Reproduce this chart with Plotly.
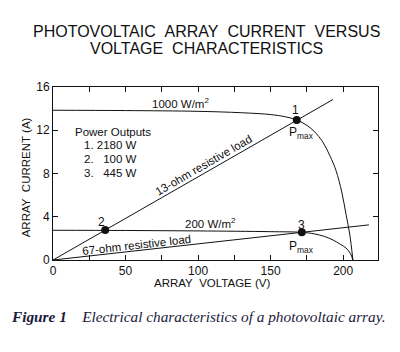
import plotly.graph_objects as go

# ---- data ----
v_1000 = [0, 50, 100, 130, 150, 160, 168, 175, 180, 186, 191, 195, 199, 202, 204.5, 206.7]
i_1000 = [13.85, 13.82, 13.75, 13.62, 13.45, 13.25, 12.95, 12.45, 11.9, 10.9, 9.6, 8.3, 6.3, 4.2, 2.4, 0]

v_200 = [0, 50, 100, 150, 171.5, 180, 187, 193, 198, 202, 205, 206.7]
i_200 = [2.75, 2.73, 2.69, 2.62, 2.56, 2.42, 2.18, 1.85, 1.45, 1.1, 0.6, 0]

load13_v = [0, 193]
load13_r = 13
load67_v = [0, 217.7]
load67_r = 67

op_labels = ["1", "2", "3"]
op_v = [168, 36, 171.5]
op_i = [12.95, 36 / 13, 171.5 / 67]

power_lines = ["1. 2180 W", "2.\u00a0\u00a0\u00a0100 W", "3.\u00a0\u00a0\u00a0445 W"]

x_ticks = [0, 50, 100, 150, 200]
y_ticks = [0, 4, 8, 12, 16]

BLACK = "#111111"
FONT = "Liberation Sans, Arial, sans-serif"

fig = go.Figure()
fig.add_trace(go.Scatter(x=v_1000, y=i_1000, mode="lines", line=dict(color=BLACK, width=1), line_shape="spline"))
fig.add_trace(go.Scatter(x=v_200, y=i_200, mode="lines", line=dict(color=BLACK, width=1), line_shape="spline"))
fig.add_trace(go.Scatter(x=load13_v, y=[v / load13_r for v in load13_v], mode="lines", line=dict(color=BLACK, width=1)))
fig.add_trace(go.Scatter(x=load67_v, y=[v / load67_r for v in load67_v], mode="lines", line=dict(color=BLACK, width=1)))
fig.add_trace(go.Scatter(x=op_v, y=op_i, mode="markers", marker=dict(color=BLACK, size=8)))

ann = []
def txt(x, y, t, size=12, angle=0, xanchor="center", **kw):
    ann.append(dict(x=x, y=y, xref="x", yref="y", text=t, showarrow=False, textangle=angle,
                    xanchor=xanchor, yanchor="middle", font=dict(family=FONT, size=size, color=BLACK), **kw))

txt(88, 14.5, "1000 W/m<sup>2</sup>", 11.5)
txt(108.7, 3.42, "200 W/m<sup>2</sup>", 11.5)
txt(167.4, 13.85, op_labels[0], 12)
txt(33.5, 3.5, op_labels[1], 12)
txt(171.5, 3.2, op_labels[2], 12)
txt(171.5, 11.7, "P<sub>max</sub>", 12)
txt(171.5, 1.2, "P<sub>max</sub>", 12)
txt(104, 8.77, "13-ohm resistive load", 11.5, angle=-30)
txt(57.7, 1.39, "67-ohm resistive load", 11.5, angle=-6.4)
txt(13.5, 11.8, "Power Outputs", 11.5, xanchor="left")
for yy, t in zip([10.6, 9.35, 8.05], power_lines):
    txt(20, yy, t, 11.5, xanchor="left")

def paper(x, y, t, size, xanchor="center", angle=0, family=FONT, color=BLACK):
    ann.append(dict(x=x, y=y, xref="paper", yref="paper", text=t, showarrow=False, textangle=angle,
                    xanchor=xanchor, yanchor="middle", font=dict(family=family, size=size, color=color)))

paper(0.473, 1.318, "PHOTOVOLTAIC\u00a0\u00a0ARRAY\u00a0\u00a0CURRENT\u00a0\u00a0VERSUS", 16)
paper(0.473, 1.22, "VOLTAGE\u00a0\u00a0CHARACTERISTICS", 16)
paper(0.49, -0.133, "ARRAY\u00a0\u00a0VOLTAGE (V)", 11.5)
paper(-0.082, 0.48, "ARRAY\u00a0\u00a0CURRENT (A)", 11.5, angle=-90)
paper(-0.134, -0.329,
      "<b><i>Figure 1</i></b>\u00a0\u00a0\u00a0\u00a0<i>Electrical characteristics of a photovoltaic array.</i>",
      15.3, xanchor="left", family="Liberation Serif, Times New Roman, serif", color="#1a1a3a")

axis_common = dict(showline=True, linecolor=BLACK, linewidth=1, mirror="ticks", ticks="inside",
                   ticklen=5, tickcolor=BLACK, showgrid=False, zeroline=False,
                   tickfont=dict(family=FONT, size=12, color=BLACK))

fig.update_layout(
    width=400, height=352,
    margin=dict(l=53, r=22, t=87, b=92),
    paper_bgcolor="white", plot_bgcolor="white",
    showlegend=False,
    annotations=ann,
    xaxis=dict(range=[0, 224], tickvals=x_ticks,
               minor=dict(tickvals=[25, 75, 125, 175], ticks="inside", ticklen=5, tickcolor=BLACK, showgrid=False),
               **axis_common),
    yaxis=dict(range=[0, 16], tickvals=y_ticks, **axis_common),
)

fig.write_html("out.html")
